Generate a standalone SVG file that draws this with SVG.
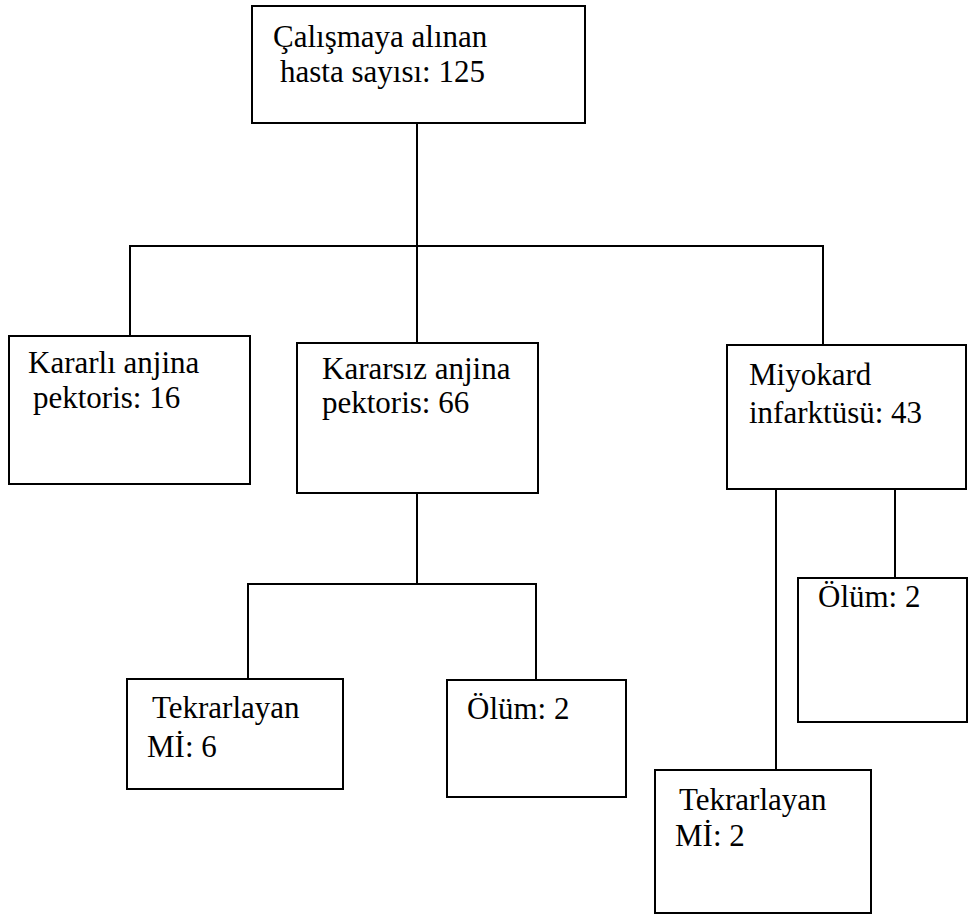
<svg xmlns="http://www.w3.org/2000/svg" width="968" height="918" viewBox="0 0 968 918">
<style>
.box{fill:#fff;stroke:#000;stroke-width:2}
.ln{fill:none;stroke:#000;stroke-width:2}
.t{font-family:'Liberation Serif','DejaVu Serif',serif;font-size:31px;fill:#000}
</style>
<rect width="968" height="918" fill="#fff"/>
<g id="connectors">
<path class="ln" d="M417,123 V343"/>
<path class="ln" d="M130,336 V246 H823 V345"/>
<path class="ln" d="M417,493 V584"/>
<path class="ln" d="M248,679 V584 H536 V680"/>
<path class="ln" d="M776,489 V770"/>
<path class="ln" d="M895,489 V578"/>
</g>
<g id="n-root"><rect class="box" x="252" y="6" width="333" height="117"/>
<text class="t" font-family="Liberation Serif, serif" x="273" y="47">Çalışmaya alınan</text><text class="t" font-family="Liberation Serif, serif" x="280" y="82">hasta sayısı: 125</text></g>
<g id="n-kararli"><rect class="box" x="9" y="336" width="241" height="148"/>
<text class="t" x="28" y="373">Kararlı anjina</text><text class="t" x="33" y="408">pektoris: 16</text></g>
<g id="n-kararsiz"><rect class="box" x="297" y="343" width="241" height="150"/>
<text class="t" x="322" y="379">Kararsız anjina</text><text class="t" x="322" y="413">pektoris: 66</text></g>
<g id="n-miyokard"><rect class="box" x="727" y="345" width="239" height="144"/>
<text class="t" x="749" y="385">Miyokard</text><text class="t" x="749" y="423">infarktüsü: 43</text></g>
<g id="n-tekrar1"><rect class="box" x="127" y="679" width="216" height="110"/>
<text class="t" x="152" y="718">Tekrarlayan</text><text class="t" x="147" y="757">Mİ: 6</text></g>
<g id="n-olum1"><rect class="box" x="447" y="680" width="179" height="117"/>
<text class="t" x="467" y="719">Ölüm: 2</text></g>
<g id="n-olum2"><rect class="box" x="798" y="578" width="169" height="144"/>
<text class="t" x="818" y="607">Ölüm: 2</text></g>
<g id="n-tekrar2"><rect class="box" x="655" y="770" width="216" height="143"/>
<text class="t" x="679" y="810">Tekrarlayan</text><text class="t" x="675" y="846">Mİ: 2</text></g>
</svg>
